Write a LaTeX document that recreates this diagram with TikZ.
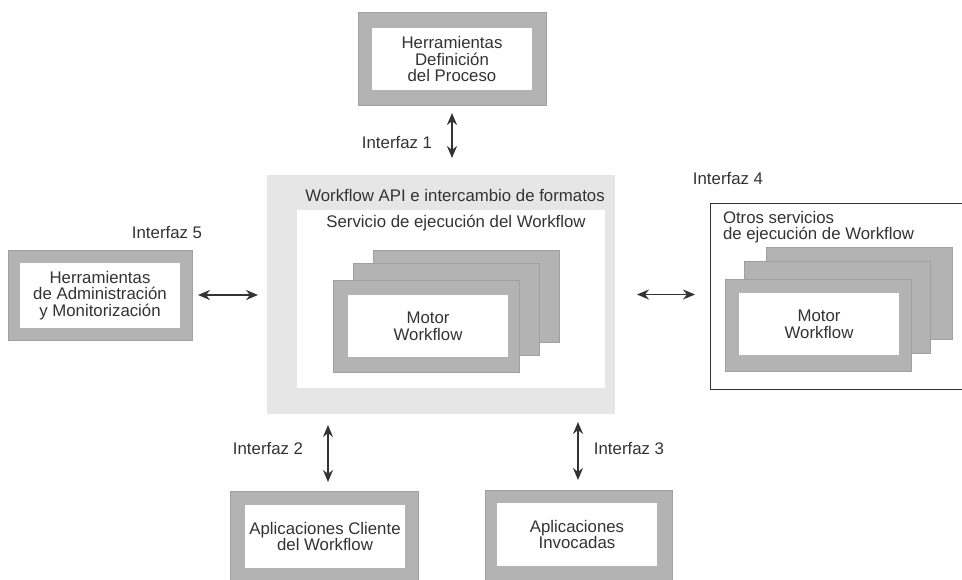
\documentclass[tikz,border=0pt]{standalone}
\usepackage{fontspec}
\setmainfont{Liberation Sans}
\usetikzlibrary{arrows.meta}
\definecolor{boxgray}{HTML}{B3B3B3}
\definecolor{edgegray}{HTML}{A0A0A0}
\definecolor{apigray}{HTML}{E6E6E6}
\definecolor{inkc}{HTML}{333333}
\tikzset{
  every node/.style={font=\fontsize{16.8}{16.8}\selectfont, text=inkc, inner sep=0pt, outer sep=0pt},
  outerbox/.style={fill=boxgray, draw=edgegray, line width=0.6pt, minimum width=#1},
  whitebox/.style={fill=white, draw=none, align=center},
  layerbox/.style={fill=boxgray, draw=edgegray, line width=0.6pt, minimum width=186pt, minimum height=92pt},
  lbl/.style={anchor=center},
  dblarrow/.style={draw=inkc, line width=1.5pt, {Stealth[length=12pt,width=10pt]}-{Stealth[length=12pt,width=10pt]}}
}
\begin{document}
\begin{tikzpicture}[x=1pt,y=-1pt]
\useasboundingbox (0,0) rectangle (962,579);
\clip (0,0) rectangle (962,579);

% top box
\node[outerbox=188pt, minimum height=93pt] (defo) at (452,58.5) {};
\node[whitebox, minimum width=160pt, minimum height=62pt] (def) at (452,59) {Herramientas\\Definición\\del Proceso};

% left box
\node[outerbox=184pt, minimum height=90pt] (admo) at (100,295) {};
\node[whitebox, minimum width=160pt, minimum height=65pt] (adm) at (100,295.5) {Herramientas\\de Administración\\y Monitorización};

% central API box
\node[fill=apigray, draw=none, minimum width=348pt, minimum height=239pt] (api) at (441,294.5) {};
\node[lbl] (apit) at (455,195) {Workflow API e intercambio de formatos};
\node[fill=white, draw=none, minimum width=308pt, minimum height=178pt] (serv) at (451,299) {};
\node[lbl] (servt) at (456,223) {Servicio de ejecución del Workflow};
\node[layerbox] (l3) at (466.5,296.5) {};
\node[layerbox] (l2) at (446.5,309) {};
\node[layerbox] (l1) at (426.5,326) {};
\node[whitebox, minimum width=160pt, minimum height=62pt] (motor) at (428,326) {Motor\\Workflow};

% right box
\node[fill=white, draw=inkc, line width=0.9pt, minimum width=270pt, minimum height=186pt] (otros) at (845,296) {};
\node[anchor=north west, align=left] (otrost) at (723,211) {Otros servicios\\de ejecución de Workflow};
\node[layerbox] (r3) at (859,293.5) {};
\node[layerbox] (r2) at (837.5,307.5) {};
\node[layerbox] (r1) at (818.5,325) {};
\node[whitebox, minimum width=160pt, minimum height=62pt] (motor2) at (819,324) {Motor\\Workflow};

% bottom boxes
\node[outerbox=188pt, minimum height=100pt] (clio) at (324,541) {};
\node[whitebox, minimum width=160pt, minimum height=63pt] (cli) at (325,536.5) {Aplicaciones Cliente\\del Workflow};
\node[outerbox=187pt, minimum height=100pt] (invo) at (578.5,540) {};
\node[whitebox, minimum width=160pt, minimum height=63pt] (inv) at (577,534.5) {Aplicaciones\\Invocadas};

% interface labels
\node[lbl] (i1) at (397,142) {Interfaz 1};
\node[lbl] (i5) at (167,232) {Interfaz 5};
\node[lbl] (i4) at (728,178) {Interfaz 4};
\node[lbl] (i2) at (268,448) {Interfaz 2};
\node[lbl] (i3) at (629,448) {Interfaz 3};

% connectors
\draw[dblarrow, shorten <=8pt, shorten >=17pt] (defo.south) -- (defo.south |- api.north);
\draw[dblarrow, shorten <=6pt, shorten >=9pt] (admo.east) -- (admo.east -| api.west);
\draw[dblarrow, shorten <=22pt, shorten >=15pt] (api.east) -- (api.east -| otros.west);
\draw[dblarrow, shorten <=9pt, shorten >=11pt] (clio.north -| 328,0) -- (328,414);
\draw[dblarrow, shorten <=8pt, shorten >=10pt] (578,414) -- (invo.north -| 578,0);
\end{tikzpicture}
\end{document}
